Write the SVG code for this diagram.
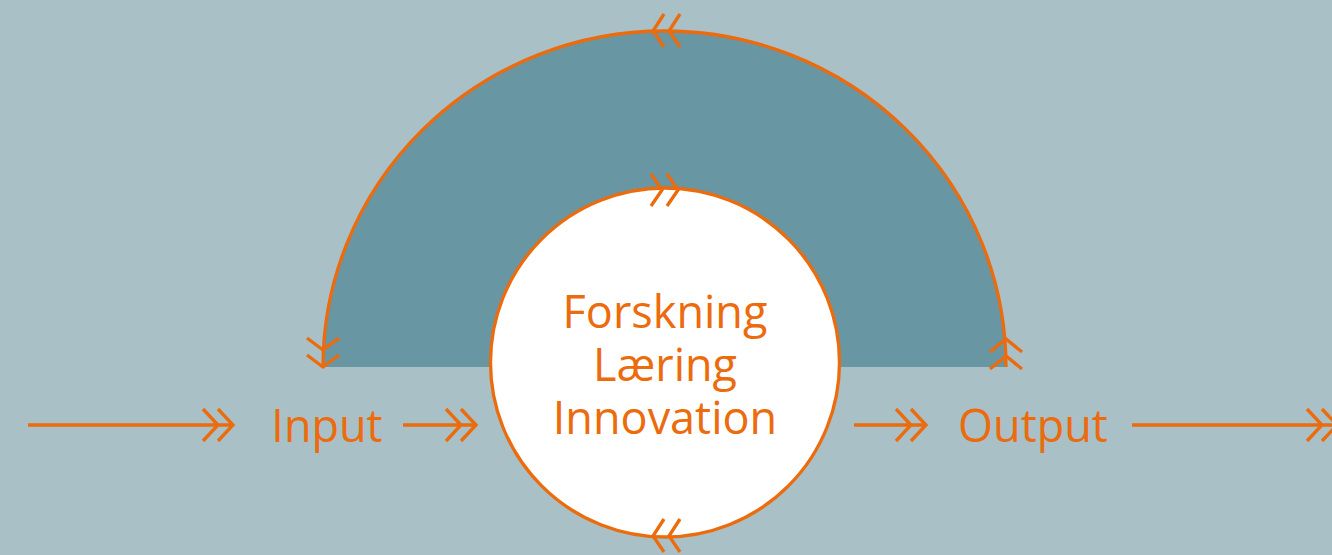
<svg xmlns="http://www.w3.org/2000/svg" width="1332" height="555" viewBox="0 0 1332 555">
<defs>
<style>
.ln{fill:none;stroke:#ec6b0d;stroke-width:3.3;stroke-linecap:butt;stroke-linejoin:miter}
.tx{font-family:"Open Sans","Noto Sans",sans-serif;font-size:45px;fill:#ec6b0d;text-anchor:middle}
</style>
</defs>
<rect width="1332" height="555" fill="#a9c0c7"/>
<g id="arc">
<path d="M323 367 A341.5 336 0 0 1 1006 367 Z" fill="#6896a3"/>
<path class="ln" d="M323 367 A341.5 336 0 0 1 1006 367"/>
</g>
<g id="center">
<circle cx="665" cy="362.5" r="174.5" fill="#ffffff" stroke="#ec6b0d" stroke-width="3.3"/>
<text class="tx" x="665" y="328">Forskning</text>
<text class="tx" x="665" y="381">Læring</text>
<text class="tx" x="665" y="434">Innovation</text>
</g>
<g id="input"><text class="tx" x="327" y="442">Input</text></g>
<g id="output"><text class="tx" x="1033" y="442">Output</text></g>
<g id="connectors">
<path class="ln" d="M28 425H233M203 409L218 425L203 441M218 409L233 425L218 441"/>
<path class="ln" d="M403 425H477M446 409L461 425L446 441M461 409L476 425L461 441"/>
<path class="ln" d="M854 425H927M896 409L911 425L896 441M911 409L926 425L911 441"/>
<path class="ln" d="M1132 425H1337M1307 409L1322 425L1307 441M1322 409L1337 425L1322 441"/>
<path class="ln" d="M664 14L653 31L664 47M680 14L669 31L680 47"/>
<path class="ln" d="M651 174L662 190L651 206M667 174L678 190L667 206"/>
<path class="ln" d="M664 519L653 536L664 552M680 519L669 536L680 552"/>
<path class="ln" d="M307 338L323 350L339 338M307 355L323 367L339 355"/>
<path class="ln" d="M990 352L1006 339L1022 352M990 369L1006 356L1022 369"/>
</g>
</svg>
